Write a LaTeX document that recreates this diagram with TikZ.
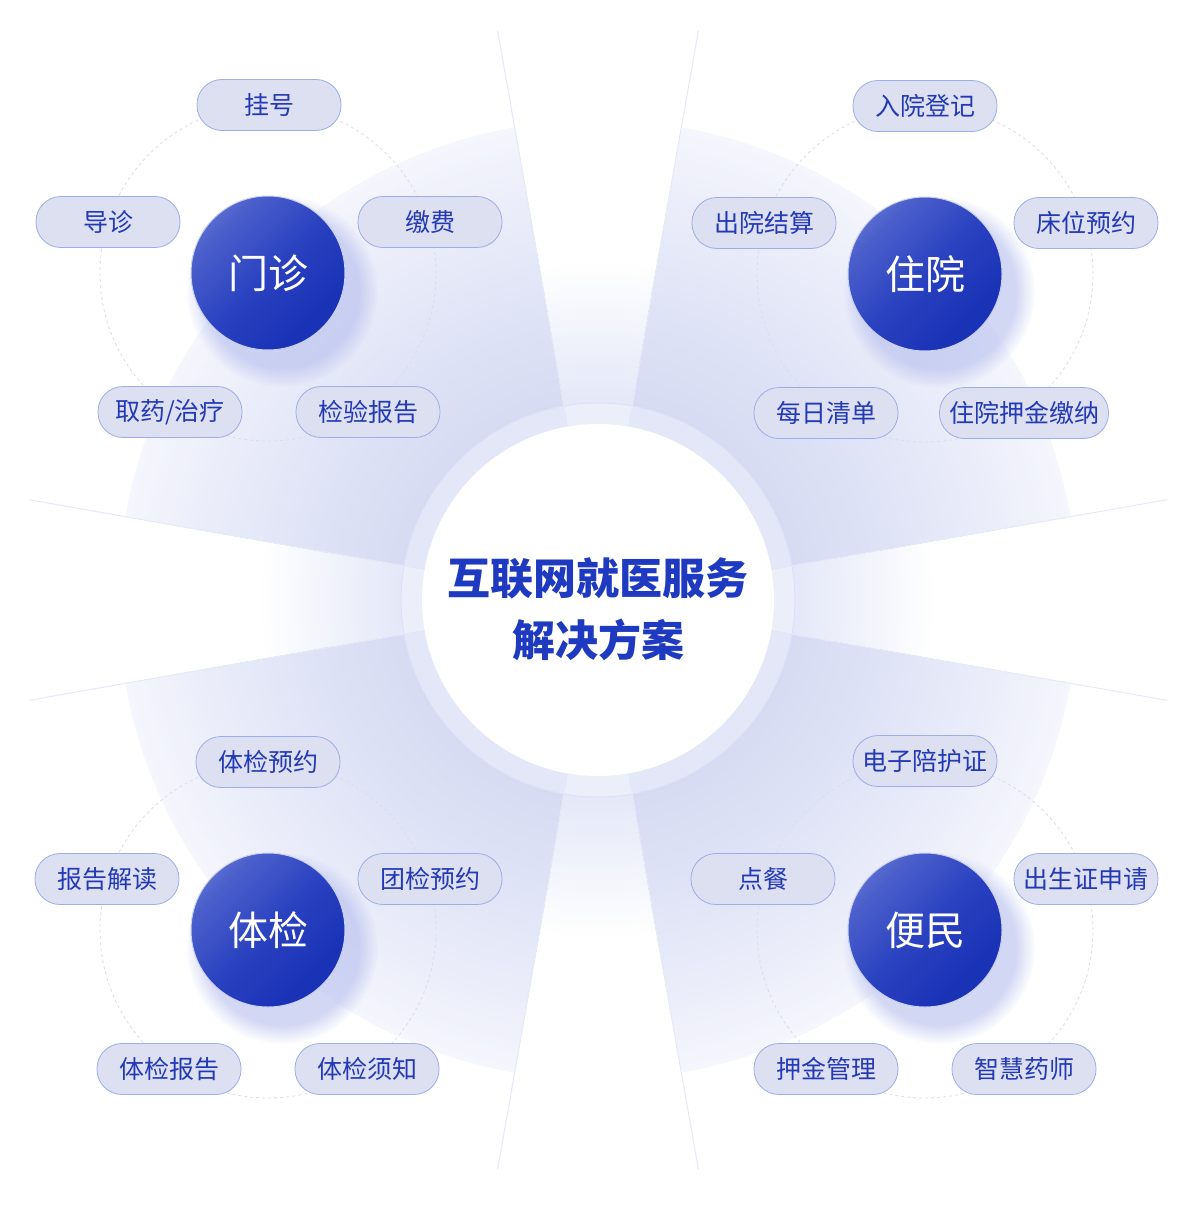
\documentclass[tikz,border=0pt]{standalone}
\usepackage{fontspec}
\setmainfont{Noto Sans CJK SC}
\usetikzlibrary{calc,fadings}
\definecolor{secA}{HTML}{D6DBF3}
\definecolor{secB}{HTML}{F6F7FD}
\definecolor{gapA}{HTML}{E2E6F7}
\definecolor{rayC}{HTML}{E6E9F7}
\definecolor{ringEdge}{HTML}{DCE1F5}
\definecolor{dashC}{HTML}{DADDEA}
\definecolor{pillFill}{HTML}{DCE0F0}
\definecolor{pillLine}{HTML}{9DADE9}
\definecolor{pillText}{HTML}{2439B6}
\definecolor{titleC}{HTML}{1E3AC0}
\definecolor{hubA}{HTML}{1A32B6}
\definecolor{hubB}{HTML}{2A42C0}
\definecolor{hubC}{HTML}{4A5ECB}
\definecolor{hubD}{HTML}{9AA8E6}
\definecolor{hubEdge}{HTML}{C9D0F2}
\definecolor{shadowC}{HTML}{AEB8EC}
\pgfdeclareverticalshading{hubshade}{100bp}{color(0bp)=(hubA); color(30bp)=(hubA); color(50bp)=(hubB); color(70bp)=(hubC); color(100bp)=(hubD)}
\tikzset{
  pill/.style={draw=pillLine, fill=pillFill, line width=0.8pt, rounded corners=25pt,
    minimum width=144pt, minimum height=51pt, inner xsep=9pt, text=pillText,
    font=\fontsize{25}{25}\selectfont},
  hub/.style={circle, minimum size=154pt, inner sep=0pt, shading=hubshade, shading angle=45,
    draw=hubEdge, line width=1pt, text=white, font=\fontsize{40}{40}\selectfont},
  ring/.style={dashC, dash pattern=on 3pt off 3pt, line width=0.8pt},
  rayline/.style={rayC, line width=1pt},
  hubshadow/.style={shadowC, path fading=circle with fuzzy edge 20 percent, fill opacity=0.55},
  titletext/.style={text=titleC, font=\fontsize{43}{43}\selectfont\bfseries}
}
\begin{document}
\begin{tikzpicture}[x=1pt,y=-1pt]
\useasboundingbox (0,0) rectangle (1200,1223);
\fill[white] (0,0) rectangle (1200,1223);
\coordinate (c) at (598,600);
% gap shading (manual radial gradient)
\foreach \r in {340,336,...,180}{
  \pgfmathsetmacro\t{min(100,max(0,(340-\r)/150*100))}
  \fill[gapA!\t!white] (c) circle[radius=\r pt];
}
% sectors
\begin{scope}
\clip (c) -- ($(c)+(10:480pt)$) arc[start angle=10,end angle=80,radius=480pt] -- cycle
      (c) -- ($(c)+(100:480pt)$) arc[start angle=100,end angle=170,radius=480pt] -- cycle
      (c) -- ($(c)+(190:480pt)$) arc[start angle=190,end angle=260,radius=480pt] -- cycle
      (c) -- ($(c)+(280:480pt)$) arc[start angle=280,end angle=350,radius=480pt] -- cycle;
\foreach \r in {480,476,...,196}{
  \pgfmathsetmacro\t{100*((480-\r)/284)^0.8}
  \fill[secA!\t!secB] (c) circle[radius=\r pt];
}
\end{scope}
% rays
\foreach \a in {10,80,100,170,190,260,280,350}
  \draw[rayline] ($(c)+(\a:197pt)$) -- ($(c)+(\a:578pt)$);
% center rings
\node[circle, minimum size=394pt, inner sep=0pt, fill=white, fill opacity=0.35, draw=ringEdge, line width=1pt] (outerring) at (c) {};
\node[circle, minimum size=352pt, inner sep=0pt, fill=white] (core) at (c) {};
\node[titletext] (title1) at (598,578) {互联网就医服务};
\node[titletext] (title2) at (598,640) {解决方案};
% hub positions
\coordinate (pmz) at (268,273);
\coordinate (pzy) at (925,274);
\coordinate (ptj) at (268,930);
\coordinate (pbm) at (925,930);
% dashed rings
\foreach \p in {pmz,pzy,ptj,pbm}
  \draw[ring] (\p) circle[radius=168pt];
% shadows
\foreach \p in {pmz,pzy,ptj,pbm}
  \fill[hubshadow] ($(\p)+(14,18)$) circle[radius=96pt];
% hubs
\node[hub] (mz) at (pmz) {门诊};
\node[hub] (zy) at (pzy) {住院};
\node[hub] (tj) at (ptj) {体检};
\node[hub] (bm) at (pbm) {便民};
% pills 门诊
\node[pill] (gh) at (269,105) {挂号};
\node[pill] (dz) at (108,222) {导诊};
\node[pill] (jf) at (430,222) {缴费};
\node[pill] (qy) at (170,412) {取药/治疗};
\node[pill] (jy) at (368,412) {检验报告};
% pills 住院
\node[pill] (ry) at (925,106) {入院登记};
\node[pill] (cy) at (764,223) {出院结算};
\node[pill] (cw) at (1086,223) {床位预约};
\node[pill] (mr) at (826,413) {每日清单};
\node[pill, minimum width=169pt] (yj) at (1024,413) {住院押金缴纳};
% pills 体检
\node[pill] (tjyy) at (268,762) {体检预约};
\node[pill] (bg) at (107,879) {报告解读};
\node[pill] (tt) at (430,879) {团检预约};
\node[pill] (tjbg) at (169,1069) {体检报告};
\node[pill] (tjxz) at (367,1069) {体检须知};
% pills 便民
\node[pill] (dzph) at (925,761) {电子陪护证};
\node[pill] (dc) at (763,879) {点餐};
\node[pill] (csz) at (1086,879) {出生证申请};
\node[pill] (yjgl) at (826,1069) {押金管理};
\node[pill] (zhys) at (1024,1069) {智慧药师};
\end{tikzpicture}
\end{document}
